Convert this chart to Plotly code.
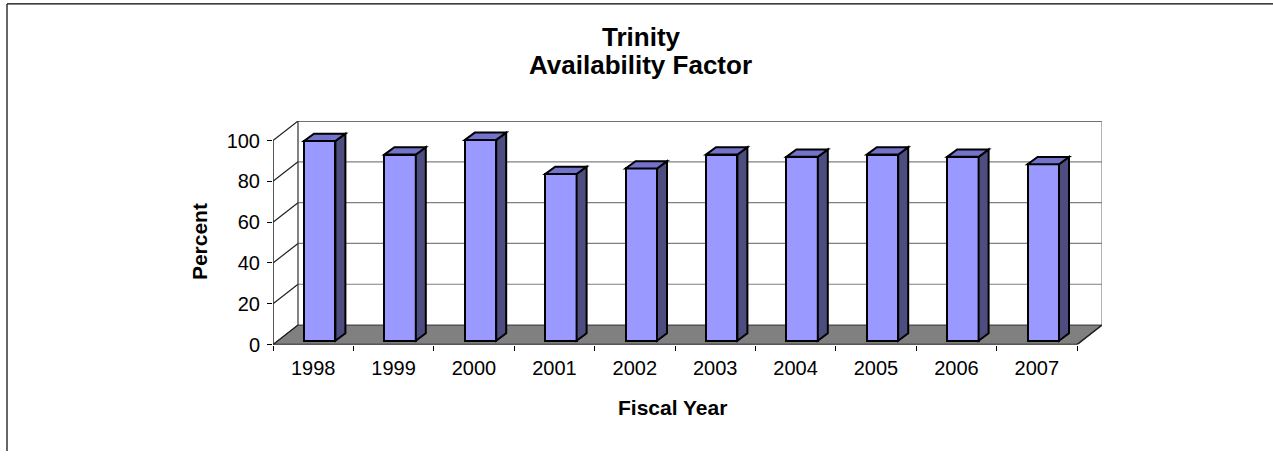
import plotly.graph_objects as go

# ---- data ----
years = ["1998", "1999", "2000", "2001", "2002", "2003", "2004", "2005", "2006", "2007"]
availability = [97.9, 91.2, 98.4, 81.7, 84.4, 91.2, 90.1, 91.2, 90.1, 86.5]
y_ticks = [0, 20, 40, 60, 80, 100]

# ---- geometry / style (pixels -> data units) ----
W, H = 1273, 462
px_per_cat = 80.4
px_per_unit = 2.09
wall_dx = 25 / px_per_cat       # depth offset of back wall (x)
wall_dy = 20 / px_per_unit      # depth offset of back wall (y)
bar_front_dx = 6.5 / px_per_cat
bar_front_dy = 4 / px_per_unit
bar_w = 31.4 / px_per_cat
side_dx = 10 / px_per_cat
side_dy = 7.5 / px_per_unit

n = len(years)
xpos = list(range(n))
x0, x1 = -0.5, n - 0.5
xr = [x0, x1 + wall_dx]
yr = [0, 100 + wall_dy]

left_px, right_px = 273, 273 + (xr[1] - xr[0]) * px_per_cat
bottom_px = 353
top_px = bottom_px - (yr[1] - yr[0]) * px_per_unit

FONT = "Liberation Sans, Arial, sans-serif"

fig = go.Figure()

bar_offset = bar_front_dx - bar_w / 2
fig.add_trace(go.Bar(
    x=xpos, y=availability, base=[bar_front_dy] * n,
    width=bar_w, offset=bar_offset,
    marker=dict(color="#9999FF", line=dict(color="black", width=2)),
    hoverinfo="skip", showlegend=False,
))

shapes = []
# floor
shapes.append(dict(type="path", xref="x", yref="y", layer="below",
                   path=f"M {x0},0 L {x1},0 L {x1+wall_dx},{wall_dy} L {x0+wall_dx},{wall_dy} Z",
                   fillcolor="#808080", line=dict(color="#303030", width=1)))
# back wall gridlines + side-wall diagonals
for v in y_ticks:
    if v > 0:
        shapes.append(dict(type="line", xref="x", yref="y", layer="below",
                           x0=x0 + wall_dx, x1=x1 + wall_dx, y0=v + wall_dy, y1=v + wall_dy,
                           line=dict(color="#808080" if v < 100 else "#404040", width=1.2)))
    shapes.append(dict(type="line", xref="x", yref="y", layer="below",
                       x0=x0, x1=x0 + wall_dx, y0=v, y1=v + wall_dy,
                       line=dict(color="#202020", width=1.2)))
# back wall vertical edges
shapes.append(dict(type="line", xref="x", yref="y", layer="below",
                   x0=x0 + wall_dx, x1=x0 + wall_dx, y0=wall_dy, y1=100 + wall_dy,
                   line=dict(color="#303030", width=1.2)))
shapes.append(dict(type="line", xref="x", yref="y", layer="below",
                   x0=x1 + wall_dx, x1=x1 + wall_dx, y0=wall_dy, y1=100 + wall_dy,
                   line=dict(color="#808080", width=1.2)))
# front axes
shapes.append(dict(type="line", xref="x", yref="y", x0=x0, x1=x0, y0=0, y1=100,
                   line=dict(color="#202020", width=1.5)))
shapes.append(dict(type="line", xref="x", yref="y", x0=x0, x1=x1, y0=0, y1=0,
                   line=dict(color="#202020", width=1.5)))
shapes.append(dict(type="line", xref="x", yref="y", x0=x1, x1=x1 + wall_dx, y0=0, y1=wall_dy,
                   line=dict(color="#202020", width=1.5)))

# bar side and top faces
for i, v in enumerate(availability):
    xl = i + bar_offset
    xrr = xl + bar_w
    b = bar_front_dy
    t = bar_front_dy + v
    shapes.append(dict(type="path", xref="x", yref="y",
                       path=f"M {xrr},{b} L {xrr+side_dx},{b+side_dy} L {xrr+side_dx},{t+side_dy} L {xrr},{t} Z",
                       fillcolor="#4D4D80", line=dict(color="black", width=2)))
    shapes.append(dict(type="path", xref="x", yref="y",
                       path=f"M {xl},{t} L {xrr},{t} L {xrr+side_dx},{t+side_dy} L {xl+side_dx},{t+side_dy} Z",
                       fillcolor="#7373CC", line=dict(color="black", width=2)))

# outer frame (top and left edges)
shapes.append(dict(type="line", xref="paper", yref="paper", x0=7 / W, x1=1, y0=1 - 4 / H, y1=1 - 4 / H,
                   line=dict(color="black", width=1.2)))
shapes.append(dict(type="line", xref="paper", yref="paper", x0=7 / W, x1=7 / W, y0=0, y1=1 - 4 / H,
                   line=dict(color="black", width=1.2)))

annotations = [
    dict(text="<b>Trinity</b>", x=641 / W, y=1 - 38 / H, xref="paper", yref="paper",
         showarrow=False, xanchor="center", yanchor="middle", font=dict(family=FONT, size=26, color="black")),
    dict(text="<b>Availability Factor</b>", x=640 / W, y=1 - 67 / H, xref="paper", yref="paper",
         showarrow=False, xanchor="center", yanchor="middle", font=dict(family=FONT, size=26, color="black")),
    dict(text="<b>Percent</b>", x=199 / W, y=1 - 248 / H, xref="paper", yref="paper", textangle=-90,
         showarrow=False, xanchor="center", yanchor="middle", font=dict(family=FONT, size=21, color="black")),
    dict(text="<b>Fiscal Year</b>", x=672 / W, y=1 - 417 / H, xref="paper", yref="paper",
         showarrow=False, xanchor="center", yanchor="middle", font=dict(family=FONT, size=21, color="black")),
]

fig.update_layout(
    width=W, height=H, autosize=False,
    margin=dict(l=0, r=0, t=0, b=0),
    paper_bgcolor="white", plot_bgcolor="rgba(0,0,0,0)",
    shapes=shapes, annotations=annotations,
    xaxis=dict(range=xr, domain=[left_px / W, right_px / W], tickmode="array",
               tickvals=xpos, ticktext=years, ticks="outside", ticklen=5,
               tickcolor="rgba(0,0,0,0)", showgrid=False, zeroline=False, showline=False,
               tickfont=dict(family=FONT, size=20, color="black"), fixedrange=True),
    xaxis2=dict(range=xr, overlaying="x", anchor="y", side="bottom",
                tickmode="array", tickvals=[x0 + k for k in range(n + 1)],
                ticks="outside", ticklen=5, tickcolor="black", tickwidth=1.2,
                showticklabels=False, showgrid=False, zeroline=False, showline=False),
    yaxis=dict(range=yr, domain=[(H - bottom_px) / H, (H - top_px) / H], tickmode="array",
               tickvals=y_ticks, ticks="outside", ticklen=5, tickcolor="black", tickwidth=1.2,
               showgrid=False, zeroline=False, showline=False, ticklabelstandoff=3,
               tickfont=dict(family=FONT, size=20, color="black"), fixedrange=True),
    bargap=0,
)
# invisible trace to activate xaxis2 ticks
fig.add_trace(go.Scatter(x=[x0], y=[0], xaxis="x2", yaxis="y", mode="markers",
                         marker=dict(opacity=0), hoverinfo="skip", showlegend=False))

fig.write_html("out.html", config={"displayModeBar": False},
               post_script="document.body.style.margin='0';document.body.style.overflow='hidden';")
